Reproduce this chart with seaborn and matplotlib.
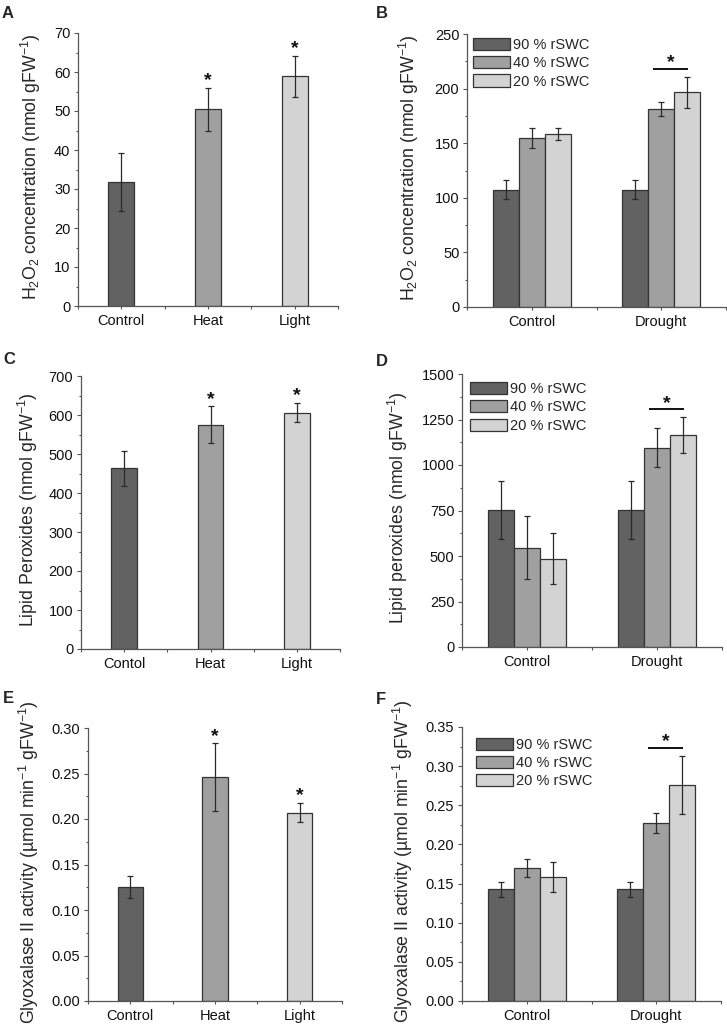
import numpy as np
import pandas as pd
import matplotlib
matplotlib.use('Agg')
import matplotlib.pyplot as plt
import matplotlib.patches as mpatches
from matplotlib.ticker import MultipleLocator, FormatStrFormatter
import seaborn as sns

# ── DATA ─────────────────────────────────────────────────────
cats_stress = ['Control', 'Heat', 'Light']
cats_lipid = ['Contol', 'Heat', 'Light']
groups = ['Control', 'Drought']
levels = ['90 % rSWC', '40 % rSWC', '20 % rSWC']

# A: H2O2, heat / light
h2o2_stress = [31.8, 50.5, 58.9]
h2o2_stress_err = [7.5, 5.5, 5.2]
sig_stress_a = [False, True, True]

# B: H2O2, drought (one list per rSWC level: Control, Drought)
h2o2_90 = [107.5, 107.5]
h2o2_40 = [154.5, 181.0]
h2o2_20 = [158.5, 196.6]
h2o2_90_err = [8.5, 8.5]
h2o2_40_err = [9.3, 6.5]
h2o2_20_err = [5.8, 14.2]

# C: lipid peroxides, heat / light
lipid_stress = [463, 575, 606]
lipid_stress_err = [45, 47, 25]
sig_stress_c = [False, True, True]

# D: lipid peroxides, drought
lipid_90 = [754, 754]
lipid_40 = [546, 1095]
lipid_20 = [486, 1165]
lipid_90_err = [160, 160]
lipid_40_err = [172, 108]
lipid_20_err = [138, 97]

# E: glyoxalase II, heat / light
glyox_stress = [0.125, 0.246, 0.207]
glyox_stress_err = [0.012, 0.037, 0.0103]
sig_stress_e = [False, True, True]

# F: glyoxalase II, drought
glyox_90 = [0.1425, 0.1425]
glyox_40 = [0.170, 0.227]
glyox_20 = [0.1585, 0.2763]
glyox_90_err = [0.0096, 0.0096]
glyox_40_err = [0.012, 0.0126]
glyox_20_err = [0.019, 0.037]

shades = ['#626262', '#a0a0a0', '#d3d3d3']
edge = '#333333'
err_col = '#2a2a2a'
axis_col = '#555555'

# ── STYLE ────────────────────────────────────────────────────
sns.set_style('ticks')
plt.rcParams['font.family'] = ['Liberation Sans', 'DejaVu Sans']
plt.rcParams['mathtext.fontset'] = 'custom'
plt.rcParams['mathtext.rm'] = 'Liberation Sans'
plt.rcParams['mathtext.it'] = 'Liberation Sans:italic'
plt.rcParams['mathtext.bf'] = 'Liberation Sans:bold'

W, H = 727, 1027
fig = plt.figure(figsize=(W / 100, H / 100), dpi=100)


def px_rect(l, r, t, b):
    return [l / W, 1 - b / H, (r - l) / W, (b - t) / H]


def style_axes(ax, ymax, major, minor, fmt, xmax, ylabel, label_x):
    sns.despine(ax=ax)
    for s in ['left', 'bottom']:
        ax.spines[s].set_color(axis_col)
        ax.spines[s].set_linewidth(0.9)
    ax.set_xlim(-0.5, xmax)
    ax.set_ylim(0, ymax)
    ax.yaxis.set_major_locator(MultipleLocator(major))
    ax.yaxis.set_minor_locator(MultipleLocator(minor))
    ax.yaxis.set_major_formatter(FormatStrFormatter(fmt))
    ax.xaxis.set_minor_locator(MultipleLocator(0.5))
    ax.tick_params(axis='both', which='both', direction='out', color=axis_col,
                   width=0.8, labelcolor='#111111')
    ax.tick_params(axis='y', which='major', length=3, labelsize=10.5, pad=2.5)
    ax.tick_params(axis='y', which='minor', length=1.8)
    ax.tick_params(axis='x', which='both', length=2.5, labelsize=10.5, pad=3)
    ax.set_xlabel('')
    ax.set_ylabel(ylabel, fontsize=12.8)
    ax.yaxis.set_label_coords(label_x, 0.51)


def star(ax, x, y, dy):
    ax.annotate('*', (x, y), xytext=(0, dy), textcoords='offset points',
                ha='center', va='baseline', fontsize=14, fontweight='bold',
                color='#111111')


def single_panel(ax, cats, vals, errs, sig, ymax):
    df = pd.DataFrame({'cat': cats, 'val': vals})
    sns.barplot(data=df, x='cat', y='val', hue='cat', palette=shades,
                width=0.3, errorbar=None, edgecolor=edge, linewidth=0.9,
                legend=False, ax=ax)
    for p in list(ax.patches):
        xc = p.get_x() + p.get_width() / 2
        i = int(round(xc))
        ax.errorbar(xc, vals[i], yerr=errs[i], fmt='none', ecolor=err_col,
                    elinewidth=0.9, capsize=2.2, capthick=0.9)
        if sig[i]:
            star(ax, xc, vals[i] + errs[i], 2.0)


def grouped_panel(ax, series, series_err, ymax, legend_xy):
    rows = []
    for lvl, vals in zip(levels, series):
        for g, v in zip(groups, vals):
            rows.append({'group': g, 'level': lvl, 'val': v})
    df = pd.DataFrame(rows)
    sns.barplot(data=df, x='group', y='val', hue='level', hue_order=levels,
                palette=shades, width=0.6, gap=0, errorbar=None,
                edgecolor=edge, linewidth=0.9, ax=ax)
    tops = []
    for j, cont in enumerate(list(ax.containers)[:3]):
        for k, bar in enumerate(cont):
            xc = bar.get_x() + bar.get_width() / 2
            ax.errorbar(xc, series[j][k], yerr=series_err[j][k], fmt='none',
                        ecolor=err_col, elinewidth=0.9, capsize=2.2,
                        capthick=0.9)
            tops.append(series[j][k] + series_err[j][k])
    # significance bar over drought 40 % / 20 %
    b40 = ax.containers[1][1]
    b20 = ax.containers[2][1]
    x1 = b40.get_x() + b40.get_width() / 2 - 0.06
    x2 = b20.get_x() + b20.get_width() / 2 + 0.01
    y = max(tops) + 0.03 * ymax
    ax.plot([x1, x2], [y, y], color='#111111', lw=1.4, solid_capstyle='butt')
    star(ax, (x1 + x2) / 2, y, 1.0)
    if ax.get_legend() is not None:
        ax.get_legend().remove()
    handles = [mpatches.Patch(facecolor=c, edgecolor=edge, linewidth=0.9, label=l)
               for c, l in zip(shades, levels)]
    ax.legend(handles=handles, loc='upper left', bbox_to_anchor=legend_xy,
              frameon=False, fontsize=10.5, handlelength=2.55, handleheight=0.9,
              handletextpad=0.2, labelspacing=0.28, borderpad=0,
              borderaxespad=0)


# ── A ────────────────────────────────────────────────────────
axA = fig.add_axes(px_rect(78, 338, 33, 306))
single_panel(axA, cats_stress, h2o2_stress, h2o2_stress_err, sig_stress_a, 70)
style_axes(axA, 70, 10, 5, '%d', 2.5,
           'H$_2$O$_2$ concentration (nmol gFW$^{-1}$)', -0.135)

# ── B ────────────────────────────────────────────────────────
axB = fig.add_axes(px_rect(467, 726, 34, 307))
grouped_panel(axB, [h2o2_90, h2o2_40, h2o2_20],
              [h2o2_90_err, h2o2_40_err, h2o2_20_err], 250, (0.023, 0.985))
style_axes(axB, 250, 50, 25, '%d', 1.5,
           'H$_2$O$_2$ concentration (nmol gFW$^{-1}$)', -0.178)

# ── C ────────────────────────────────────────────────────────
axC = fig.add_axes(px_rect(81, 340, 376, 649))
single_panel(axC, cats_lipid, lipid_stress, lipid_stress_err, sig_stress_c, 700)
style_axes(axC, 700, 100, 50, '%d', 2.5,
           'Lipid Peroxides (nmol gFW$^{-1}$)', -0.158)

# ── D ────────────────────────────────────────────────────────
axD = fig.add_axes(px_rect(462, 722, 374, 647))
grouped_panel(axD, [lipid_90, lipid_40, lipid_20],
              [lipid_90_err, lipid_40_err, lipid_20_err], 1500, (0.03, 0.97))
style_axes(axD, 1500, 250, 125, '%d', 1.5,
           'Lipid peroxides (nmol gFW$^{-1}$)', -0.2)

# ── E ────────────────────────────────────────────────────────
axE = fig.add_axes(px_rect(88, 342, 728, 1001))
single_panel(axE, cats_stress, glyox_stress, glyox_stress_err, sig_stress_e, 0.30)
style_axes(axE, 0.30, 0.05, 0.025, '%.2f', 2.5,
           'Glyoxalase II activity (\u00b5mol min$^{-1}$ gFW$^{-1}$)', -0.185)

# ── F ────────────────────────────────────────────────────────
axF = fig.add_axes(px_rect(462, 721, 727, 1001))
grouped_panel(axF, [glyox_90, glyox_40, glyox_20],
              [glyox_90_err, glyox_40_err, glyox_20_err], 0.35, (0.054, 0.96))
style_axes(axF, 0.35, 0.05, 0.025, '%.2f', 1.5,
           'Glyoxalase II activity (\u00b5mol min$^{-1}$ gFW$^{-1}$)', -0.181)

# ── panel letters ────────────────────────────────────────────
for lab, (px, py) in zip('ABCDEF', [(2, 6), (376, 6), (3, 352), (376, 354),
                                    (3, 691), (376, 692)]):
    fig.text(px / W, 1 - py / H, lab, fontsize=12, fontweight='bold',
             ha='left', va='top')

fig.savefig('out.png', dpi=100)
plt.close(fig)
